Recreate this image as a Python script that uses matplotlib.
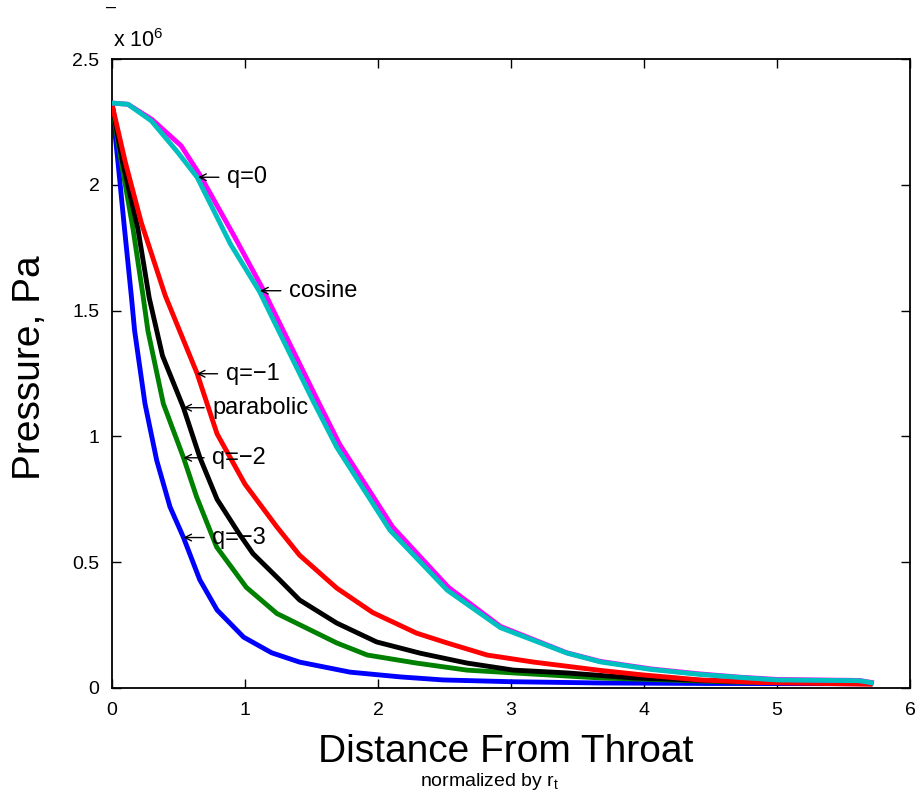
import matplotlib

matplotlib.use("Agg")
import matplotlib.pyplot as plt
import numpy as np
from matplotlib.ticker import FuncFormatter

# pressure values, in units of 1e6 Pa
SCALE = 1e6

q3_x = [0, 0.045, 0.095, 0.145, 0.17, 0.248, 0.336, 0.436, 0.536, 0.66, 0.79, 0.99,
        1.2, 1.41, 1.79, 2.17, 2.49, 3.0, 3.67, 4.5, 5.70]
q3_p = [2.32, 2.09, 1.82, 1.56, 1.42, 1.13, 0.905, 0.72, 0.60, 0.43, 0.31, 0.202,
        0.14, 0.103, 0.063, 0.044, 0.032, 0.025, 0.02, 0.018, 0.017]

q2_x = [0, 0.07, 0.158, 0.233, 0.27, 0.386, 0.536, 0.636, 0.787, 1.01, 1.24, 1.34,
        1.69, 1.92, 2.29, 2.67, 3.05, 3.67, 4.0, 4.67, 5.5, 5.70]
q2_p = [2.32, 2.09, 1.825, 1.56, 1.42, 1.13, 0.918, 0.76, 0.56, 0.40, 0.296, 0.27,
        0.179, 0.131, 0.099, 0.071, 0.059, 0.04, 0.035, 0.024, 0.022, 0.02]

parab_x = [0, 0.08, 0.195, 0.28, 0.38, 0.536, 0.66, 0.79, 0.96, 1.06, 1.26, 1.41,
           1.69, 1.99, 2.32, 2.67, 3.02, 3.42, 3.67, 3.92, 4.67, 5.70]
parab_p = [2.32, 2.09, 1.825, 1.55, 1.32, 1.116, 0.917, 0.75, 0.61, 0.534, 0.43, 0.35,
           0.258, 0.183, 0.138, 0.099, 0.071, 0.06, 0.05, 0.04, 0.026, 0.02]

q1_x = [0, 0.1, 0.22, 0.40, 0.64, 0.79, 1.0, 1.24, 1.41, 1.69, 1.96, 2.29, 2.52,
        2.82, 3.17, 3.67, 3.99, 4.42, 4.87, 5.70]
q1_p = [2.32, 2.09, 1.85, 1.56, 1.25, 1.01, 0.81, 0.64, 0.528, 0.397, 0.30, 0.218, 0.179,
        0.131, 0.103, 0.07, 0.052, 0.032, 0.022, 0.015]

q0_x = [0, 0.12, 0.30, 0.52, 0.66, 0.92, 1.13, 1.53, 1.71, 2.11, 2.53, 2.92, 3.42,
        3.67, 4.05, 4.42, 4.72, 5.0, 5.62, 5.71]
q0_p = [2.325, 2.32, 2.26, 2.155, 2.04, 1.795, 1.59, 1.16, 0.97, 0.64, 0.40, 0.245, 0.14,
        0.106, 0.076, 0.056, 0.043, 0.034, 0.03, 0.022]

cos_x = [0, 0.12, 0.296, 0.496, 0.64, 0.89, 1.11, 1.24, 1.51, 1.69, 2.09, 2.52, 2.92,
         3.42, 3.67, 4.05, 4.42, 4.72, 5.0, 5.62, 5.71]
cos_p = [2.325, 2.32, 2.254, 2.128, 2.03, 1.765, 1.575, 1.434, 1.143, 0.957, 0.627, 0.389,
         0.24, 0.139, 0.104, 0.074, 0.054, 0.042, 0.032, 0.029, 0.021]

series = [
    (q3_x, q3_p, "#0000FF"),
    (q2_x, q2_p, "#008000"),
    (parab_x, parab_p, "#000000"),
    (q1_x, q1_p, "#FF0000"),
    (q0_x, q0_p, "#FF00FF"),
    (cos_x, cos_p, "#00BFBF"),
]

# arrow labels, pointing at (label_x, label_p)
labels = ["q=0", "cosine", "q=\u22121", "parabolic", "q=\u22122", "q=\u22123"]
label_x = [0.647, 1.113, 0.637, 0.536, 0.536, 0.536]
label_p = [2.03, 1.579, 1.249, 1.114, 0.915, 0.598]

plt.rcParams.update({
    "font.family": ["Liberation Sans", "DejaVu Sans"],
    "mathtext.default": "regular",
    "axes.linewidth": 1.3,
    "xtick.direction": "in",
    "ytick.direction": "in",
    "xtick.top": True,
    "ytick.right": True,
})

W, H = 922, 795
fig = plt.figure(figsize=(W / 100, H / 100), dpi=100)
ax = fig.add_axes([112 / W, (H - 688) / H, 798 / W, 629 / H])

for i, (xs, ps, color) in enumerate(series):
    ax.plot(xs, np.array(ps) * SCALE, color=color, linewidth=3.5, zorder=2 + i)

for text, x, p in zip(labels, label_x, label_p):
    ax.annotate(text, xy=(x, p * SCALE), xytext=(21, 0), textcoords="offset points",
                fontsize=17, ha="left", va="center", zorder=10,
                arrowprops=dict(arrowstyle="->", color="black", lw=1.0,
                                relpos=(0, 0.5), shrinkA=4, shrinkB=0,
                                mutation_scale=12))

ax.set_xlim(0, 6)
ax.set_ylim(0, 2.5e6)
ax.set_xticks(range(0, 7))
ax.set_yticks(np.arange(0, 2.51e6, 0.5e6))
ax.yaxis.set_major_formatter(FuncFormatter(lambda v, pos: f"{v / SCALE:g}"))
ax.tick_params(length=6.5, width=1.0, labelsize=14)
ax.tick_params(axis="x", pad=10)
ax.tick_params(axis="y", pad=9)

fig.text(113 / W, (H - 47) / H, "x 10$^{6}$", fontsize=15.5, ha="left", va="baseline")
fig.text(111 / W, (H - 12) / H, "\u2013", fontsize=13, ha="center", va="baseline")
fig.text(506 / W, (H - 762) / H, "Distance From Throat", fontsize=28,
         ha="center", va="baseline")
fig.text(490 / W, (H - 786) / H, "normalized by r$_{t}$", fontsize=14,
         ha="center", va="baseline")
fig.text(30 / W, (H - 368) / H, "Pressure, Pa", fontsize=28, rotation=90,
         ha="center", va="center")

fig.savefig("out.png", dpi=100)
